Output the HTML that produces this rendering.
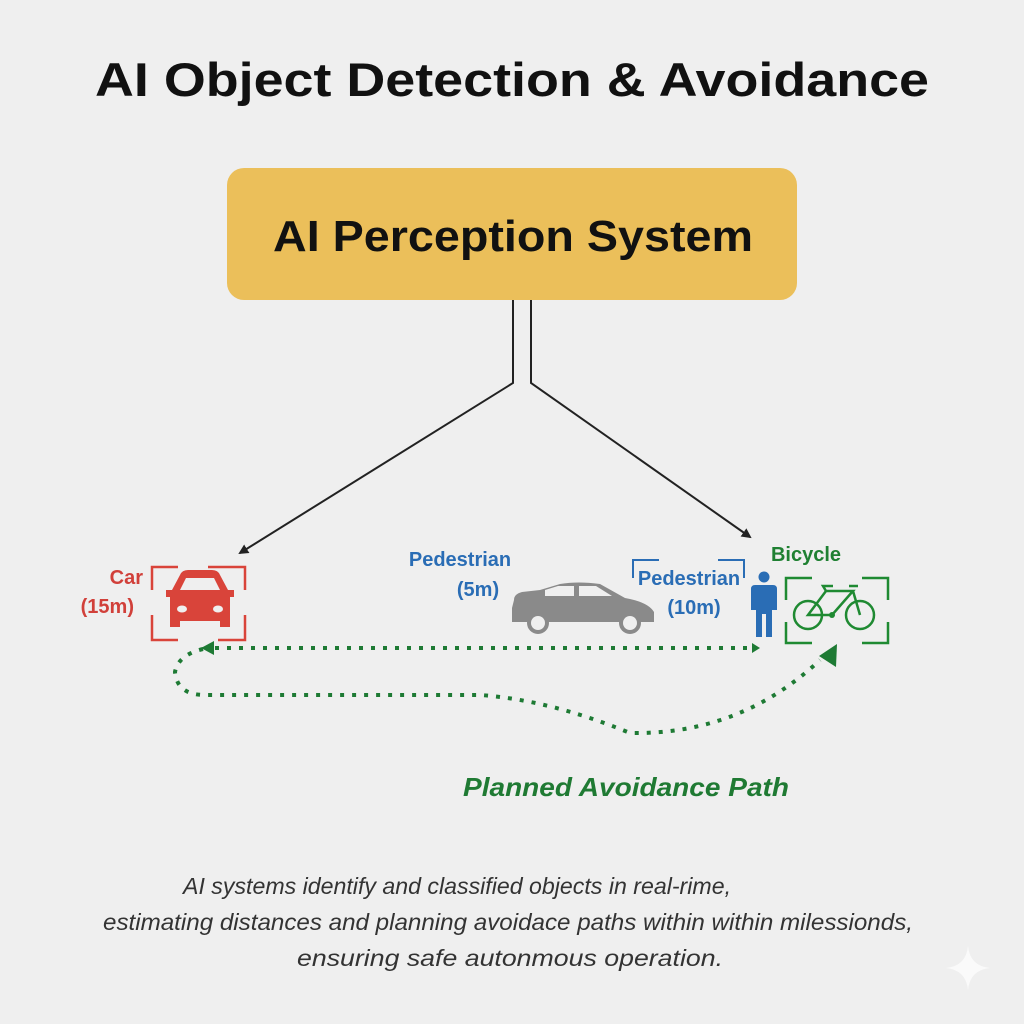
<!DOCTYPE html>
<html><head><meta charset="utf-8"><style>
html,body{margin:0;padding:0;background:#efefef;}
svg{display:block}
</style></head><body>
<svg width="1024" height="1024" viewBox="0 0 1024 1024" xmlns="http://www.w3.org/2000/svg">
<defs>
<marker id="ab" markerWidth="10" markerHeight="10" refX="8" refY="5" orient="auto" markerUnits="userSpaceOnUse"><path d="M0,0 L10,5 L0,10 z" fill="#222"/></marker>
</defs>
<rect width="1024" height="1024" fill="#efefef"/>
<text x="512" y="96" text-anchor="middle" font-family="Liberation Sans, sans-serif" font-weight="bold" font-size="47" fill="#111" textLength="834" lengthAdjust="spacingAndGlyphs">AI Object Detection &amp; Avoidance</text>
<rect x="227" y="168" width="570" height="132" rx="17" fill="#ebbf5a"/>
<text x="513" y="251" text-anchor="middle" font-family="Liberation Sans, sans-serif" font-weight="bold" font-size="44" fill="#111" textLength="480" lengthAdjust="spacingAndGlyphs">AI Perception System</text>
<!-- connectors -->
<g stroke="#222" stroke-width="2" fill="none">
<path d="M513,300 V383 L240,553" marker-end="url(#ab)"/>
<path d="M531,300 V383 L750,537" marker-end="url(#ab)"/>
</g>
<!-- car red -->
<g font-family="Liberation Sans, sans-serif" font-weight="bold" font-size="20">
<text x="143" y="584" text-anchor="end" fill="#d1403a">Car</text>
<text x="134" y="613" text-anchor="end" fill="#d1403a">(15m)</text>
<text x="460" y="566" text-anchor="middle" fill="#2a6db5">Pedestrian</text>
<text x="478" y="596" text-anchor="middle" fill="#2a6db5">(5m)</text>
<text x="689" y="585" text-anchor="middle" fill="#2a6db5">Pedestrian</text>
<text x="694" y="614" text-anchor="middle" fill="#2a6db5">(10m)</text>
<text x="806" y="561" text-anchor="middle" fill="#1f8032">Bicycle</text>
</g>
<g stroke="#d9443a" stroke-width="2.5" fill="none">
<path d="M152,590 V567 H178 M208,567 H245 V590 M245,615 V640 H218 M178,640 H152 V615"/>
</g>
<g fill="#d9443a">
<path d="M172,590 L180,575 Q182,570 188,570 H212 Q218,570 220,575 L228,590 H234 V597 H230 V627 H220 V621 H180 V627 H170 V597 H166 V590 z"/>
<ellipse cx="182" cy="609" rx="5" ry="3.5" fill="#efefef"/>
<ellipse cx="218" cy="609" rx="5" ry="3.5" fill="#efefef"/>
<path d="M180,590 L186,578 H214 L220,590 z" fill="#efefef"/>
</g>
<!-- grey car -->
<g fill="#8a8a8a">
<path d="M514,600 Q514,594 522,592 L540,590 L560,584 Q578,581 600,584 L625,598 Q648,602 654,612 V622 H512 V608 z"/>
<path d="M545,590 L558,586 H574 V596 H545 z M579,586 H596 L612,596 H579 z" fill="#efefef"/>
<circle cx="538" cy="623" r="11"/><circle cx="630" cy="623" r="11"/>
<circle cx="538" cy="623" r="7" fill="#efefef"/><circle cx="630" cy="623" r="7" fill="#efefef"/>
</g>
<path d="M633,578 V560 H659 M718,560 H744 V578" stroke="#2a6db5" stroke-width="2" fill="none"/>
<!-- person -->
<g fill="#2a6db5">
<circle cx="764" cy="577" r="5.5"/>
<path d="M755,585 H773 Q777,585 777,589 V610 H772 V637 H766 V614 H762 V637 H756 V610 H751 V589 Q751,585 755,585 z"/>
</g>
<!-- bicycle -->
<g stroke="#1f8a32" stroke-width="2.5" fill="none">
<path d="M786,600 V578 H812 M862,578 H888 V600 M888,622 V643 H862 M812,643 H786 V622"/>
<circle cx="808" cy="615" r="14"/><circle cx="860" cy="615" r="14"/>
<path d="M808,615 L826,591 H853 L832,615 Z M853,591 L860,615 M826,591 L823,586 H833 M849,586 H858"/>
</g>
<circle cx="832" cy="615" r="3" fill="#1f8a32"/>
<!-- dotted path -->
<g stroke="#1e7a34" stroke-width="4" fill="none" stroke-dasharray="4,8">
<path d="M215,648 H752"/>
<path d="M203,649 Q178,655 175,672 Q177,695 205,695 H480 Q550,700 630,733 Q740,735 820,660"/>
</g>
<path d="M201,648 L214,641 L214,655 z" fill="#1e7a34"/>
<path d="M760,648 L752,643 L752,653 z" fill="#1e7a34"/>
<path d="M837,644 L819,656 L836,667 z" fill="#1e7a34"/>
<text x="626" y="796" text-anchor="middle" font-family="Liberation Sans, sans-serif" font-weight="bold" font-style="italic" font-size="26" fill="#1f7a33" textLength="326" lengthAdjust="spacingAndGlyphs">Planned Avoidance Path</text>
<g font-family="Liberation Sans, sans-serif" font-style="italic" font-size="23" fill="#333" text-anchor="middle">
<text x="457" y="894" textLength="548" lengthAdjust="spacingAndGlyphs">AI systems identify and classified objects in real-rime,</text>
<text x="508" y="930" textLength="810" lengthAdjust="spacingAndGlyphs">estimating distances and planning avoidace paths within within milessionds,</text>
<text x="510" y="966" textLength="426" lengthAdjust="spacingAndGlyphs">ensuring safe autonmous operation.</text>
</g>
<path d="M968,946 Q970,966 990,968 Q970,970 968,990 Q966,970 946,968 Q966,966 968,946 z" fill="#fafafa"/>
</svg>
</body></html>
